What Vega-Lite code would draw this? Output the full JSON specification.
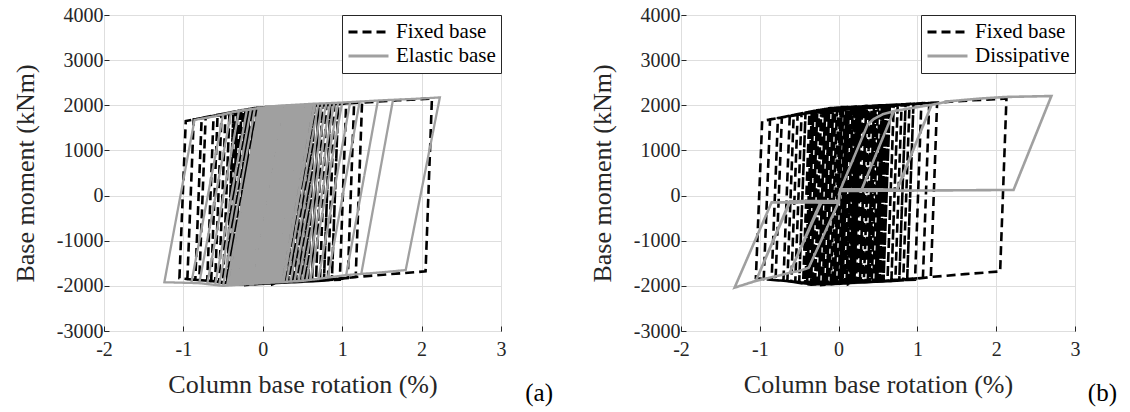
{
"$schema":"https://vega.github.io/schema/vega-lite/v6.json",
"background":"white",
"padding":{"left":11,"top":4,"right":5,"bottom":5},
"bounds":"flush",
"spacing":180,
"config":{
 "font":"Liberation Serif",
 "view":{"stroke":"#262626","strokeWidth":1},
 "style":{"guide-label":{"font":"Liberation Serif"}},
 "axis":{"labelFont":"Liberation Serif","labelFontSize":20,"labelColor":"#262626","titleFont":"Liberation Serif","titleFontSize":26,"titleFontWeight":"normal","titleColor":"#262626","gridColor":"#dedede","domain":false,"ticks":true,"tickColor":"#262626","tickSize":-5,"labelFlush":false},
 "axisX":{"labelPadding":13,"titlePadding":12},
 "axisY":{"labelPadding":6,"titlePadding":6,"minExtent":60,"maxExtent":60},
 "legend":{"orient":"top-right","offset":0,"strokeColor":"#262626","fillColor":"white","padding":5,"symbolType":"stroke","symbolSize":1600,"symbolStrokeWidth":3,"labelFont":"Liberation Serif","labelFontSize":21,"labelColor":"#000000","labelOffset":6,"rowPadding":0,"clipHeight":24,"cornerRadius":0},
 "title":{"font":"Liberation Serif","fontSize":25,"fontWeight":"normal","color":"#000000"}
},
"resolve":{"scale":{"color":"independent","strokeDash":"independent","x":"independent","y":"independent"}},
"datasets":{
"fixed":[
{"i":1,"x":0,"y":0,"s":"Fixed base"},
{"i":2,"x":0.04,"y":1960,"s":"Fixed base"},
{"i":3,"x":0.35,"y":1975,"s":"Fixed base"},
{"i":4,"x":0.27,"y":-1923,"s":"Fixed base"},
{"i":5,"x":-0.30,"y":-1960,"s":"Fixed base"},
{"i":6,"x":-0.22,"y":1904,"s":"Fixed base"},
{"i":7,"x":0.60,"y":2000,"s":"Fixed base"},
{"i":8,"x":0.52,"y":-1898,"s":"Fixed base"},
{"i":9,"x":-0.10,"y":-1960,"s":"Fixed base"},
{"i":10,"x":-0.02,"y":1948,"s":"Fixed base"},
{"i":11,"x":0.20,"y":1965,"s":"Fixed base"},
{"i":12,"x":0.12,"y":-1938,"s":"Fixed base"},
{"i":13,"x":-0.55,"y":-1912,"s":"Fixed base"},
{"i":14,"x":-0.47,"y":1803,"s":"Fixed base"},
{"i":15,"x":-0.10,"y":1940,"s":"Fixed base"},
{"i":16,"x":0.30,"y":1970,"s":"Fixed base"},
{"i":17,"x":0.85,"y":2025,"s":"Fixed base"},
{"i":18,"x":0.77,"y":-1882,"s":"Fixed base"},
{"i":19,"x":0.05,"y":-1945,"s":"Fixed base"},
{"i":20,"x":0.13,"y":1931,"s":"Fixed base"},
{"i":21,"x":0.45,"y":1955,"s":"Fixed base"},
{"i":22,"x":0.37,"y":-1883,"s":"Fixed base"},
{"i":23,"x":-0.40,"y":-1918,"s":"Fixed base"},
{"i":24,"x":-0.32,"y":1871,"s":"Fixed base"},
{"i":25,"x":0.30,"y":1970,"s":"Fixed base"},
{"i":26,"x":0.90,"y":2030,"s":"Fixed base"},
{"i":27,"x":1.25,"y":2060,"s":"Fixed base"},
{"i":28,"x":1.70,"y":2110,"s":"Fixed base"},
{"i":29,"x":2.13,"y":2150,"s":"Fixed base"},
{"i":30,"x":2.05,"y":-1680,"s":"Fixed base"},
{"i":31,"x":1.60,"y":-1740,"s":"Fixed base"},
{"i":32,"x":1.20,"y":-1800,"s":"Fixed base"},
{"i":33,"x":0.80,"y":-1880,"s":"Fixed base"},
{"i":34,"x":0.50,"y":-1900,"s":"Fixed base"},
{"i":35,"x":0.20,"y":-1930,"s":"Fixed base"},
{"i":36,"x":-0.20,"y":-1960,"s":"Fixed base"},
{"i":37,"x":-0.12,"y":1874,"s":"Fixed base"},
{"i":38,"x":0.30,"y":1930,"s":"Fixed base"},
{"i":39,"x":0.70,"y":1980,"s":"Fixed base"},
{"i":40,"x":0.62,"y":-1892,"s":"Fixed base"},
{"i":41,"x":0.20,"y":-1930,"s":"Fixed base"},
{"i":42,"x":-0.35,"y":-1960,"s":"Fixed base"},
{"i":43,"x":-0.60,"y":-1900,"s":"Fixed base"},
{"i":44,"x":-0.90,"y":-1860,"s":"Fixed base"},
{"i":45,"x":-1.05,"y":-1830,"s":"Fixed base"},
{"i":46,"x":-0.97,"y":1652,"s":"Fixed base"},
{"i":47,"x":-0.70,"y":1740,"s":"Fixed base"},
{"i":48,"x":-0.30,"y":1880,"s":"Fixed base"},
{"i":49,"x":0.30,"y":1970,"s":"Fixed base"},
{"i":50,"x":0.90,"y":2030,"s":"Fixed base"},
{"i":51,"x":1.25,"y":2060,"s":"Fixed base"},
{"i":52,"x":1.17,"y":-1806,"s":"Fixed base"},
{"i":53,"x":0.80,"y":-1860,"s":"Fixed base"},
{"i":54,"x":0.20,"y":-1900,"s":"Fixed base"},
{"i":55,"x":-0.35,"y":-1930,"s":"Fixed base"},
{"i":56,"x":-0.80,"y":-1873,"s":"Fixed base"},
{"i":57,"x":-0.72,"y":1734,"s":"Fixed base"},
{"i":58,"x":-0.30,"y":1850,"s":"Fixed base"},
{"i":59,"x":0.30,"y":1940,"s":"Fixed base"},
{"i":60,"x":0.95,"y":2034,"s":"Fixed base"},
{"i":61,"x":0.87,"y":-1866,"s":"Fixed base"},
{"i":62,"x":0.20,"y":-1930,"s":"Fixed base"},
{"i":63,"x":-0.35,"y":-1975,"s":"Fixed base"},
{"i":64,"x":-0.65,"y":-1893,"s":"Fixed base"},
{"i":65,"x":-0.57,"y":1772,"s":"Fixed base"},
{"i":66,"x":-0.30,"y":1880,"s":"Fixed base"},
{"i":67,"x":0.30,"y":1970,"s":"Fixed base"},
{"i":68,"x":0.22,"y":-1928,"s":"Fixed base"},
{"i":69,"x":-0.35,"y":-1960,"s":"Fixed base"},
{"i":70,"x":-0.60,"y":-1900,"s":"Fixed base"},
{"i":71,"x":-0.95,"y":-1850,"s":"Fixed base"},
{"i":72,"x":-0.87,"y":1689,"s":"Fixed base"},
{"i":73,"x":-0.50,"y":1790,"s":"Fixed base"},
{"i":74,"x":-0.30,"y":1880,"s":"Fixed base"},
{"i":75,"x":0.10,"y":1960,"s":"Fixed base"},
{"i":76,"x":0.55,"y":1995,"s":"Fixed base"},
{"i":77,"x":0.47,"y":-1903,"s":"Fixed base"},
{"i":78,"x":-0.25,"y":-1960,"s":"Fixed base"},
{"i":79,"x":-0.17,"y":1889,"s":"Fixed base"},
{"i":80,"x":0.30,"y":1945,"s":"Fixed base"},
{"i":81,"x":0.90,"y":2010,"s":"Fixed base"},
{"i":82,"x":1.05,"y":2043,"s":"Fixed base"},
{"i":83,"x":0.97,"y":-1864,"s":"Fixed base"},
{"i":84,"x":0.50,"y":-1900,"s":"Fixed base"},
{"i":85,"x":0.10,"y":-1940,"s":"Fixed base"},
{"i":86,"x":0.18,"y":1962,"s":"Fixed base"},
{"i":87,"x":0.22,"y":1964,"s":"Fixed base"},
{"i":88,"x":0.14,"y":-1936,"s":"Fixed base"},
{"i":89,"x":-0.45,"y":-1936,"s":"Fixed base"},
{"i":90,"x":-0.37,"y":1819,"s":"Fixed base"},
{"i":91,"x":0.30,"y":1940,"s":"Fixed base"},
{"i":92,"x":0.75,"y":1995,"s":"Fixed base"},
{"i":93,"x":0.67,"y":-1895,"s":"Fixed base"},
{"i":94,"x":-0.15,"y":-1960,"s":"Fixed base"},
{"i":95,"x":-0.07,"y":1943,"s":"Fixed base"},
{"i":96,"x":0.40,"y":1980,"s":"Fixed base"},
{"i":97,"x":0.32,"y":-1918,"s":"Fixed base"},
{"i":98,"x":-0.35,"y":-1960,"s":"Fixed base"},
{"i":99,"x":-0.70,"y":-1887,"s":"Fixed base"},
{"i":100,"x":-0.62,"y":1763,"s":"Fixed base"},
{"i":101,"x":-0.30,"y":1880,"s":"Fixed base"},
{"i":102,"x":0.30,"y":1970,"s":"Fixed base"},
{"i":103,"x":0.65,"y":2005,"s":"Fixed base"},
{"i":104,"x":0.57,"y":-1897,"s":"Fixed base"},
{"i":105,"x":0.00,"y":-1950,"s":"Fixed base"},
{"i":106,"x":0.08,"y":1928,"s":"Fixed base"},
{"i":107,"x":0.25,"y":1938,"s":"Fixed base"},
{"i":108,"x":0.17,"y":-1933,"s":"Fixed base"},
{"i":109,"x":-0.35,"y":-1960,"s":"Fixed base"},
{"i":110,"x":-0.27,"y":1889,"s":"Fixed base"},
{"i":111,"x":0.30,"y":1970,"s":"Fixed base"},
{"i":112,"x":0.90,"y":2030,"s":"Fixed base"},
{"i":113,"x":0.82,"y":-1876,"s":"Fixed base"},
{"i":114,"x":-0.05,"y":-1955,"s":"Fixed base"},
{"i":115,"x":0.03,"y":1953,"s":"Fixed base"},
{"i":116,"x":0.50,"y":1990,"s":"Fixed base"},
{"i":117,"x":0.42,"y":-1908,"s":"Fixed base"},
{"i":118,"x":-0.50,"y":-1924,"s":"Fixed base"},
{"i":119,"x":-0.42,"y":1826,"s":"Fixed base"},
{"i":120,"x":-0.10,"y":1940,"s":"Fixed base"},
{"i":121,"x":0.30,"y":1970,"s":"Fixed base"},
{"i":122,"x":0.90,"y":2030,"s":"Fixed base"},
{"i":123,"x":1.15,"y":2051,"s":"Fixed base"},
{"i":124,"x":1.07,"y":-1826,"s":"Fixed base"},
{"i":125,"x":0.50,"y":-1900,"s":"Fixed base"},
{"i":126,"x":0.20,"y":-1930,"s":"Fixed base"},
{"i":127,"x":0.28,"y":1969,"s":"Fixed base"},
{"i":128,"x":0.35,"y":1975,"s":"Fixed base"},
{"i":129,"x":0.27,"y":-1923,"s":"Fixed base"},
{"i":130,"x":-0.20,"y":-1960,"s":"Fixed base"},
{"i":131,"x":-0.12,"y":1934,"s":"Fixed base"},
{"i":132,"x":0.30,"y":1970,"s":"Fixed base"},
{"i":133,"x":0.80,"y":2020,"s":"Fixed base"},
{"i":134,"x":0.72,"y":-1886,"s":"Fixed base"},
{"i":135,"x":0.20,"y":-1930,"s":"Fixed base"},
{"i":136,"x":-0.35,"y":-1960,"s":"Fixed base"},
{"i":137,"x":-0.60,"y":-1900,"s":"Fixed base"},
{"i":138,"x":-0.52,"y":1785,"s":"Fixed base"},
{"i":139,"x":-0.30,"y":1880,"s":"Fixed base"},
{"i":140,"x":0.10,"y":1960,"s":"Fixed base"},
{"i":141,"x":0.02,"y":-1952,"s":"Fixed base"},
{"i":142,"x":-0.35,"y":-1960,"s":"Fixed base"},
{"i":143,"x":-0.60,"y":-1900,"s":"Fixed base"},
{"i":144,"x":-0.85,"y":-1867,"s":"Fixed base"},
{"i":145,"x":-0.77,"y":1719,"s":"Fixed base"},
{"i":146,"x":-0.30,"y":1880,"s":"Fixed base"},
{"i":147,"x":0.30,"y":1970,"s":"Fixed base"},
{"i":148,"x":0.60,"y":2000,"s":"Fixed base"},
{"i":149,"x":0.52,"y":-1898,"s":"Fixed base"},
{"i":150,"x":-0.30,"y":-1960,"s":"Fixed base"},
{"i":151,"x":-0.22,"y":1904,"s":"Fixed base"},
{"i":152,"x":0.45,"y":1985,"s":"Fixed base"},
{"i":153,"x":0.37,"y":-1913,"s":"Fixed base"},
{"i":154,"x":0.05,"y":-1945,"s":"Fixed base"},
{"i":155,"x":0.13,"y":1961,"s":"Fixed base"},
{"i":156,"x":0.70,"y":2010,"s":"Fixed base"},
{"i":157,"x":0.62,"y":-1892,"s":"Fixed base"},
{"i":158,"x":-0.40,"y":-1948,"s":"Fixed base"},
{"i":159,"x":-0.32,"y":1871,"s":"Fixed base"},
{"i":160,"x":0.20,"y":1965,"s":"Fixed base"},
{"i":161,"x":0.12,"y":-1938,"s":"Fixed base"},
{"i":162,"x":-0.10,"y":-1960,"s":"Fixed base"},
{"i":163,"x":-0.02,"y":1948,"s":"Fixed base"},
{"i":164,"x":0.85,"y":2025,"s":"Fixed base"},
{"i":165,"x":0.77,"y":-1882,"s":"Fixed base"},
{"i":166,"x":0.15,"y":-1935,"s":"Fixed base"},
{"i":167,"x":0.23,"y":1966,"s":"Fixed base"},
{"i":168,"x":0.55,"y":1995,"s":"Fixed base"},
{"i":169,"x":0.47,"y":-1903,"s":"Fixed base"},
{"i":170,"x":-0.25,"y":-1960,"s":"Fixed base"},
{"i":171,"x":-0.17,"y":1919,"s":"Fixed base"},
{"i":172,"x":0.30,"y":1970,"s":"Fixed base"},
{"i":173,"x":0.22,"y":-1928,"s":"Fixed base"},
{"i":174,"x":-0.50,"y":-1924,"s":"Fixed base"},
{"i":175,"x":-0.42,"y":1826,"s":"Fixed base"},
{"i":176,"x":0.95,"y":2034,"s":"Fixed base"},
{"i":177,"x":0.87,"y":-1866,"s":"Fixed base"},
{"i":178,"x":0.25,"y":-1925,"s":"Fixed base"},
{"i":179,"x":0.33,"y":1972,"s":"Fixed base"},
{"i":180,"x":0.65,"y":2005,"s":"Fixed base"},
{"i":181,"x":0.57,"y":-1897,"s":"Fixed base"},
{"i":182,"x":-0.05,"y":-1955,"s":"Fixed base"},
{"i":183,"x":0.03,"y":1953,"s":"Fixed base"},
{"i":184,"x":0.40,"y":1980,"s":"Fixed base"},
{"i":185,"x":0.32,"y":-1918,"s":"Fixed base"},
{"i":186,"x":-0.15,"y":-1960,"s":"Fixed base"},
{"i":187,"x":-0.07,"y":1943,"s":"Fixed base"},
{"i":188,"x":0.05,"y":1958,"s":"Fixed base"},
{"i":189,"x":-0.03,"y":-1956,"s":"Fixed base"},
{"i":190,"x":-0.40,"y":-1948,"s":"Fixed base"},
{"i":191,"x":-0.32,"y":1871,"s":"Fixed base"},
{"i":192,"x":0.75,"y":2015,"s":"Fixed base"},
{"i":193,"x":0.67,"y":-1895,"s":"Fixed base"},
{"i":194,"x":0.10,"y":-1940,"s":"Fixed base"},
{"i":195,"x":0.18,"y":1962,"s":"Fixed base"},
{"i":196,"x":0.50,"y":1990,"s":"Fixed base"},
{"i":197,"x":0.42,"y":-1908,"s":"Fixed base"},
{"i":198,"x":-0.20,"y":-1960,"s":"Fixed base"},
{"i":199,"x":-0.12,"y":1934,"s":"Fixed base"},
{"i":200,"x":0.38,"y":1978,"s":"Fixed base"},
{"i":201,"x":0.30,"y":-1920,"s":"Fixed base"},
{"i":202,"x":-0.33,"y":-1960,"s":"Fixed base"},
{"i":203,"x":-0.25,"y":1895,"s":"Fixed base"},
{"i":204,"x":0.12,"y":1930,"s":"Fixed base"},
{"i":205,"x":0.04,"y":-1946,"s":"Fixed base"},
{"i":206,"x":-0.42,"y":-1943,"s":"Fixed base"},
{"i":207,"x":-0.34,"y":1862,"s":"Fixed base"},
{"i":208,"x":0.58,"y":1998,"s":"Fixed base"},
{"i":209,"x":0.50,"y":-1900,"s":"Fixed base"},
{"i":210,"x":-0.08,"y":-1960,"s":"Fixed base"},
{"i":211,"x":0.00,"y":1950,"s":"Fixed base"},
{"i":212,"x":0.28,"y":1969,"s":"Fixed base"},
{"i":213,"x":0.20,"y":-1930,"s":"Fixed base"},
{"i":214,"x":-0.28,"y":-1925,"s":"Fixed base"},
{"i":215,"x":-0.20,"y":1910,"s":"Fixed base"},
{"i":216,"x":0.48,"y":1988,"s":"Fixed base"},
{"i":217,"x":0.40,"y":-1910,"s":"Fixed base"},
{"i":218,"x":0.02,"y":-1948,"s":"Fixed base"},
{"i":219,"x":0.10,"y":1960,"s":"Fixed base"},
{"i":220,"x":0.62,"y":2002,"s":"Fixed base"},
{"i":221,"x":0.54,"y":-1896,"s":"Fixed base"},
{"i":222,"x":-0.38,"y":-1953,"s":"Fixed base"},
{"i":223,"x":-0.30,"y":1880,"s":"Fixed base"},
{"i":224,"x":0.18,"y":1930,"s":"Fixed base"},
{"i":225,"x":0.10,"y":-1940,"s":"Fixed base"},
{"i":226,"x":-0.05,"y":-1960,"s":"Fixed base"},
{"i":227,"x":0.03,"y":1953,"s":"Fixed base"},
{"i":228,"x":0.42,"y":1982,"s":"Fixed base"},
{"i":229,"x":0.34,"y":-1916,"s":"Fixed base"},
{"i":230,"x":-0.45,"y":-1936,"s":"Fixed base"},
{"i":231,"x":-0.37,"y":1849,"s":"Fixed base"},
{"i":232,"x":0.08,"y":1958,"s":"Fixed base"},
{"i":233,"x":0.00,"y":-1950,"s":"Fixed base"},
{"i":234,"x":-0.22,"y":-1985,"s":"Fixed base"},
{"i":235,"x":-0.14,"y":1928,"s":"Fixed base"},
{"i":236,"x":0.52,"y":1992,"s":"Fixed base"},
{"i":237,"x":0.44,"y":-1906,"s":"Fixed base"},
{"i":238,"x":0.08,"y":-1942,"s":"Fixed base"},
{"i":239,"x":0.16,"y":1963,"s":"Fixed base"},
{"i":240,"x":0.33,"y":1973,"s":"Fixed base"},
{"i":241,"x":0.25,"y":-1925,"s":"Fixed base"},
{"i":242,"x":-0.12,"y":-1958,"s":"Fixed base"},
{"i":243,"x":-0.04,"y":1946,"s":"Fixed base"},
{"i":244,"x":0.60,"y":2000,"s":"Fixed base"},
{"i":245,"x":0.52,"y":-1898,"s":"Fixed base"},
{"i":246,"x":-0.35,"y":-1960,"s":"Fixed base"},
{"i":247,"x":-0.27,"y":1889,"s":"Fixed base"},
{"i":248,"x":0.02,"y":1915,"s":"Fixed base"},
{"i":249,"x":-0.06,"y":-1960,"s":"Fixed base"},
{"i":250,"x":-0.30,"y":-1960,"s":"Fixed base"},
{"i":251,"x":-0.22,"y":1904,"s":"Fixed base"},
{"i":252,"x":0.25,"y":1968,"s":"Fixed base"},
{"i":253,"x":0.17,"y":-1933,"s":"Fixed base"},
{"i":254,"x":0.12,"y":-1965,"s":"Fixed base"},
{"i":255,"x":0.20,"y":1965,"s":"Fixed base"},
{"i":256,"x":0.45,"y":1985,"s":"Fixed base"},
{"i":257,"x":0.37,"y":-1913,"s":"Fixed base"},
{"i":258,"x":-0.18,"y":-1960,"s":"Fixed base"},
{"i":259,"x":-0.10,"y":1940,"s":"Fixed base"},
{"i":260,"x":0.15,"y":1925,"s":"Fixed base"},
{"i":261,"x":0.07,"y":-1943,"s":"Fixed base"},
{"i":262,"x":-0.40,"y":-1948,"s":"Fixed base"},
{"i":263,"x":-0.32,"y":1871,"s":"Fixed base"},
{"i":264,"x":0.57,"y":1997,"s":"Fixed base"},
{"i":265,"x":0.49,"y":-1901,"s":"Fixed base"},
{"i":266,"x":0.18,"y":-1932,"s":"Fixed base"},
{"i":267,"x":0.26,"y":1968,"s":"Fixed base"},
{"i":268,"x":0.36,"y":1976,"s":"Fixed base"},
{"i":269,"x":0.28,"y":-1922,"s":"Fixed base"},
{"i":270,"x":-0.02,"y":-1958,"s":"Fixed base"},
{"i":271,"x":0.06,"y":1958,"s":"Fixed base"},
{"i":272,"x":0.63,"y":2003,"s":"Fixed base"},
{"i":273,"x":0.55,"y":-1898,"s":"Fixed base"},
{"i":274,"x":-0.27,"y":-1960,"s":"Fixed base"},
{"i":275,"x":-0.19,"y":1907,"s":"Fixed base"},
{"i":276,"x":0.22,"y":1964,"s":"Fixed base"},
{"i":277,"x":0.14,"y":-1936,"s":"Fixed base"},
{"i":278,"x":-0.43,"y":-1941,"s":"Fixed base"},
{"i":279,"x":-0.35,"y":1858,"s":"Fixed base"},
{"i":280,"x":0.10,"y":1960,"s":"Fixed base"},
{"i":281,"x":0.02,"y":-1952,"s":"Fixed base"},
{"i":282,"x":-0.15,"y":-1960,"s":"Fixed base"},
{"i":283,"x":-0.07,"y":1943,"s":"Fixed base"},
{"i":284,"x":0.47,"y":1987,"s":"Fixed base"},
{"i":285,"x":0.39,"y":-1911,"s":"Fixed base"},
{"i":286,"x":-0.37,"y":-1955,"s":"Fixed base"},
{"i":287,"x":-0.33,"y":0,"s":"Fixed base"}
],
"elastic":[
{"i":1,"x":0,"y":0,"s":"Elastic base"},
{"i":2,"x":0.20,"y":1990,"s":"Elastic base"},
{"i":3,"x":0.35,"y":2005,"s":"Elastic base"},
{"i":4,"x":-0.05,"y":-1945,"s":"Elastic base"},
{"i":5,"x":-0.15,"y":-1955,"s":"Elastic base"},
{"i":6,"x":0.25,"y":1995,"s":"Elastic base"},
{"i":7,"x":0.30,"y":2000,"s":"Elastic base"},
{"i":8,"x":-0.10,"y":-1950,"s":"Elastic base"},
{"i":9,"x":-0.20,"y":-1960,"s":"Elastic base"},
{"i":10,"x":0.20,"y":1990,"s":"Elastic base"},
{"i":11,"x":0.45,"y":2015,"s":"Elastic base"},
{"i":12,"x":0.05,"y":-1935,"s":"Elastic base"},
{"i":13,"x":-0.05,"y":-1945,"s":"Elastic base"},
{"i":14,"x":0.35,"y":2005,"s":"Elastic base"},
{"i":15,"x":0.55,"y":2025,"s":"Elastic base"},
{"i":16,"x":0.15,"y":-1925,"s":"Elastic base"},
{"i":17,"x":0.10,"y":-1930,"s":"Elastic base"},
{"i":18,"x":0.50,"y":2020,"s":"Elastic base"},
{"i":19,"x":0.60,"y":2030,"s":"Elastic base"},
{"i":20,"x":0.80,"y":2045,"s":"Elastic base"},
{"i":21,"x":0.40,"y":-1900,"s":"Elastic base"},
{"i":22,"x":0.20,"y":-1920,"s":"Elastic base"},
{"i":23,"x":-0.20,"y":-1960,"s":"Elastic base"},
{"i":24,"x":-0.30,"y":-1973,"s":"Elastic base"},
{"i":25,"x":0.10,"y":1970,"s":"Elastic base"},
{"i":26,"x":0.40,"y":2010,"s":"Elastic base"},
{"i":27,"x":0.00,"y":-1940,"s":"Elastic base"},
{"i":28,"x":-0.20,"y":-1960,"s":"Elastic base"},
{"i":29,"x":-0.50,"y":-2000,"s":"Elastic base"},
{"i":30,"x":-0.60,"y":-1980,"s":"Elastic base"},
{"i":31,"x":-0.20,"y":1903,"s":"Elastic base"},
{"i":32,"x":0.00,"y":1950,"s":"Elastic base"},
{"i":33,"x":0.25,"y":1995,"s":"Elastic base"},
{"i":34,"x":-0.15,"y":-1955,"s":"Elastic base"},
{"i":35,"x":-0.25,"y":-1967,"s":"Elastic base"},
{"i":36,"x":0.15,"y":1980,"s":"Elastic base"},
{"i":37,"x":0.60,"y":2030,"s":"Elastic base"},
{"i":38,"x":1.00,"y":2060,"s":"Elastic base"},
{"i":39,"x":0.60,"y":-1867,"s":"Elastic base"},
{"i":40,"x":0.50,"y":-1890,"s":"Elastic base"},
{"i":41,"x":0.20,"y":-1920,"s":"Elastic base"},
{"i":42,"x":0.60,"y":2030,"s":"Elastic base"},
{"i":43,"x":0.95,"y":2056,"s":"Elastic base"},
{"i":44,"x":0.55,"y":-1878,"s":"Elastic base"},
{"i":45,"x":0.20,"y":-1920,"s":"Elastic base"},
{"i":46,"x":0.05,"y":-1935,"s":"Elastic base"},
{"i":47,"x":0.45,"y":2015,"s":"Elastic base"},
{"i":48,"x":0.50,"y":2020,"s":"Elastic base"},
{"i":49,"x":0.10,"y":-1930,"s":"Elastic base"},
{"i":50,"x":-0.20,"y":-1960,"s":"Elastic base"},
{"i":51,"x":-0.45,"y":-1993,"s":"Elastic base"},
{"i":52,"x":-0.05,"y":1938,"s":"Elastic base"},
{"i":53,"x":0.20,"y":1990,"s":"Elastic base"},
{"i":54,"x":0.60,"y":2030,"s":"Elastic base"},
{"i":55,"x":1.00,"y":2060,"s":"Elastic base"},
{"i":56,"x":1.22,"y":2082,"s":"Elastic base"},
{"i":57,"x":0.82,"y":-1816,"s":"Elastic base"},
{"i":58,"x":0.50,"y":-1890,"s":"Elastic base"},
{"i":59,"x":0.30,"y":-1910,"s":"Elastic base"},
{"i":60,"x":0.70,"y":2038,"s":"Elastic base"},
{"i":61,"x":0.75,"y":2041,"s":"Elastic base"},
{"i":62,"x":0.35,"y":-1905,"s":"Elastic base"},
{"i":63,"x":0.20,"y":-1920,"s":"Elastic base"},
{"i":64,"x":-0.20,"y":-1960,"s":"Elastic base"},
{"i":65,"x":-0.50,"y":-2000,"s":"Elastic base"},
{"i":66,"x":-0.80,"y":-1940,"s":"Elastic base"},
{"i":67,"x":-0.40,"y":1840,"s":"Elastic base"},
{"i":68,"x":0.00,"y":1950,"s":"Elastic base"},
{"i":69,"x":0.15,"y":1980,"s":"Elastic base"},
{"i":70,"x":-0.25,"y":-1967,"s":"Elastic base"},
{"i":71,"x":-0.35,"y":-1980,"s":"Elastic base"},
{"i":72,"x":0.05,"y":1960,"s":"Elastic base"},
{"i":73,"x":0.60,"y":2030,"s":"Elastic base"},
{"i":74,"x":1.00,"y":2060,"s":"Elastic base"},
{"i":75,"x":1.50,"y":2110,"s":"Elastic base"},
{"i":76,"x":2.00,"y":2150,"s":"Elastic base"},
{"i":77,"x":2.23,"y":2175,"s":"Elastic base"},
{"i":78,"x":1.80,"y":-1650,"s":"Elastic base"},
{"i":79,"x":1.50,"y":-1700,"s":"Elastic base"},
{"i":80,"x":1.06,"y":-1760,"s":"Elastic base"},
{"i":81,"x":0.50,"y":-1890,"s":"Elastic base"},
{"i":82,"x":0.20,"y":-1920,"s":"Elastic base"},
{"i":83,"x":-0.20,"y":-1960,"s":"Elastic base"},
{"i":84,"x":-0.50,"y":-2000,"s":"Elastic base"},
{"i":85,"x":-0.80,"y":-1940,"s":"Elastic base"},
{"i":86,"x":-1.24,"y":-1920,"s":"Elastic base"},
{"i":87,"x":-0.86,"y":1675,"s":"Elastic base"},
{"i":88,"x":-0.60,"y":1760,"s":"Elastic base"},
{"i":89,"x":-0.30,"y":1880,"s":"Elastic base"},
{"i":90,"x":0.00,"y":1950,"s":"Elastic base"},
{"i":91,"x":0.20,"y":1990,"s":"Elastic base"},
{"i":92,"x":0.60,"y":2030,"s":"Elastic base"},
{"i":93,"x":1.00,"y":2060,"s":"Elastic base"},
{"i":94,"x":1.50,"y":2110,"s":"Elastic base"},
{"i":95,"x":1.64,"y":2122,"s":"Elastic base"},
{"i":96,"x":1.24,"y":-1736,"s":"Elastic base"},
{"i":97,"x":1.06,"y":-1760,"s":"Elastic base"},
{"i":98,"x":0.50,"y":-1890,"s":"Elastic base"},
{"i":99,"x":0.20,"y":-1920,"s":"Elastic base"},
{"i":100,"x":-0.20,"y":-1960,"s":"Elastic base"},
{"i":101,"x":-0.50,"y":-2000,"s":"Elastic base"},
{"i":102,"x":-0.80,"y":-1940,"s":"Elastic base"},
{"i":103,"x":-0.90,"y":-1935,"s":"Elastic base"},
{"i":104,"x":-0.50,"y":1790,"s":"Elastic base"},
{"i":105,"x":-0.30,"y":1880,"s":"Elastic base"},
{"i":106,"x":0.00,"y":1950,"s":"Elastic base"},
{"i":107,"x":0.20,"y":1990,"s":"Elastic base"},
{"i":108,"x":0.60,"y":2030,"s":"Elastic base"},
{"i":109,"x":0.20,"y":-1920,"s":"Elastic base"},
{"i":110,"x":-0.20,"y":-1960,"s":"Elastic base"},
{"i":111,"x":-0.50,"y":-2000,"s":"Elastic base"},
{"i":112,"x":-0.55,"y":-1990,"s":"Elastic base"},
{"i":113,"x":-0.15,"y":1915,"s":"Elastic base"},
{"i":114,"x":0.00,"y":1950,"s":"Elastic base"},
{"i":115,"x":0.20,"y":1990,"s":"Elastic base"},
{"i":116,"x":0.60,"y":2030,"s":"Elastic base"},
{"i":117,"x":1.00,"y":2060,"s":"Elastic base"},
{"i":118,"x":1.45,"y":2105,"s":"Elastic base"},
{"i":119,"x":1.05,"y":-1762,"s":"Elastic base"},
{"i":120,"x":0.50,"y":-1890,"s":"Elastic base"},
{"i":121,"x":0.20,"y":-1920,"s":"Elastic base"},
{"i":122,"x":-0.20,"y":-1960,"s":"Elastic base"},
{"i":123,"x":-0.50,"y":-2000,"s":"Elastic base"},
{"i":124,"x":-0.70,"y":-1960,"s":"Elastic base"},
{"i":125,"x":-0.30,"y":1880,"s":"Elastic base"},
{"i":126,"x":0.00,"y":1950,"s":"Elastic base"},
{"i":127,"x":0.30,"y":2000,"s":"Elastic base"},
{"i":128,"x":-0.10,"y":-1950,"s":"Elastic base"},
{"i":129,"x":-0.40,"y":-1987,"s":"Elastic base"},
{"i":130,"x":0.00,"y":1950,"s":"Elastic base"},
{"i":131,"x":0.20,"y":1990,"s":"Elastic base"},
{"i":132,"x":0.60,"y":2030,"s":"Elastic base"},
{"i":133,"x":0.90,"y":2052,"s":"Elastic base"},
{"i":134,"x":0.50,"y":-1890,"s":"Elastic base"},
{"i":135,"x":0.20,"y":-1920,"s":"Elastic base"},
{"i":136,"x":0.00,"y":-1940,"s":"Elastic base"},
{"i":137,"x":0.40,"y":2010,"s":"Elastic base"},
{"i":138,"x":0.42,"y":2012,"s":"Elastic base"},
{"i":139,"x":0.02,"y":-1938,"s":"Elastic base"},
{"i":140,"x":-0.10,"y":-1950,"s":"Elastic base"},
{"i":141,"x":0.30,"y":2000,"s":"Elastic base"},
{"i":142,"x":0.65,"y":2034,"s":"Elastic base"},
{"i":143,"x":0.25,"y":-1915,"s":"Elastic base"},
{"i":144,"x":0.15,"y":-1925,"s":"Elastic base"},
{"i":145,"x":0.55,"y":2025,"s":"Elastic base"},
{"i":146,"x":0.58,"y":2028,"s":"Elastic base"},
{"i":147,"x":0.18,"y":-1922,"s":"Elastic base"},
{"i":148,"x":-0.20,"y":-1960,"s":"Elastic base"},
{"i":149,"x":0.20,"y":1990,"s":"Elastic base"},
{"i":150,"x":0.60,"y":2030,"s":"Elastic base"},
{"i":151,"x":1.00,"y":2060,"s":"Elastic base"},
{"i":152,"x":1.10,"y":2070,"s":"Elastic base"},
{"i":153,"x":0.70,"y":-1850,"s":"Elastic base"},
{"i":154,"x":0.45,"y":-1895,"s":"Elastic base"},
{"i":155,"x":0.85,"y":2049,"s":"Elastic base"},
{"i":156,"x":0.95,"y":2056,"s":"Elastic base"},
{"i":157,"x":0.55,"y":-1878,"s":"Elastic base"},
{"i":158,"x":0.20,"y":-1920,"s":"Elastic base"},
{"i":159,"x":0.10,"y":-1930,"s":"Elastic base"},
{"i":160,"x":0.50,"y":2020,"s":"Elastic base"},
{"i":161,"x":0.55,"y":2025,"s":"Elastic base"},
{"i":162,"x":0.15,"y":-1925,"s":"Elastic base"},
{"i":163,"x":-0.05,"y":-1945,"s":"Elastic base"},
{"i":164,"x":0.35,"y":2005,"s":"Elastic base"},
{"i":165,"x":0.37,"y":2007,"s":"Elastic base"},
{"i":166,"x":-0.03,"y":-1943,"s":"Elastic base"},
{"i":167,"x":-0.15,"y":-1955,"s":"Elastic base"},
{"i":168,"x":0.25,"y":1995,"s":"Elastic base"},
{"i":169,"x":0.32,"y":2002,"s":"Elastic base"},
{"i":170,"x":-0.08,"y":-1948,"s":"Elastic base"},
{"i":171,"x":-0.12,"y":-1952,"s":"Elastic base"},
{"i":172,"x":0.28,"y":1998,"s":"Elastic base"},
{"i":173,"x":0.50,"y":2020,"s":"Elastic base"},
{"i":174,"x":0.10,"y":-1930,"s":"Elastic base"},
{"i":175,"x":0.02,"y":-1938,"s":"Elastic base"},
{"i":176,"x":0.42,"y":2012,"s":"Elastic base"},
{"i":177,"x":0.48,"y":2018,"s":"Elastic base"},
{"i":178,"x":0.08,"y":-1932,"s":"Elastic base"},
{"i":179,"x":-0.25,"y":-1967,"s":"Elastic base"},
{"i":180,"x":0.15,"y":1980,"s":"Elastic base"},
{"i":181,"x":0.22,"y":1992,"s":"Elastic base"},
{"i":182,"x":-0.18,"y":-1958,"s":"Elastic base"},
{"i":183,"x":-0.28,"y":-1971,"s":"Elastic base"},
{"i":184,"x":0.12,"y":1974,"s":"Elastic base"},
{"i":185,"x":0.40,"y":2010,"s":"Elastic base"},
{"i":186,"x":0.00,"y":-1940,"s":"Elastic base"},
{"i":187,"x":-0.02,"y":-1942,"s":"Elastic base"},
{"i":188,"x":0.38,"y":2008,"s":"Elastic base"},
{"i":189,"x":0.62,"y":2032,"s":"Elastic base"},
{"i":190,"x":0.22,"y":-1918,"s":"Elastic base"},
{"i":191,"x":0.12,"y":-1928,"s":"Elastic base"},
{"i":192,"x":0.52,"y":2022,"s":"Elastic base"},
{"i":193,"x":0.58,"y":2028,"s":"Elastic base"},
{"i":194,"x":0.18,"y":-1922,"s":"Elastic base"},
{"i":195,"x":-0.08,"y":-1948,"s":"Elastic base"},
{"i":196,"x":0.32,"y":2002,"s":"Elastic base"},
{"i":197,"x":0.33,"y":2003,"s":"Elastic base"},
{"i":198,"x":-0.07,"y":-1947,"s":"Elastic base"},
{"i":199,"x":-0.32,"y":-1976,"s":"Elastic base"},
{"i":200,"x":0.08,"y":1966,"s":"Elastic base"},
{"i":201,"x":0.12,"y":1974,"s":"Elastic base"},
{"i":202,"x":-0.28,"y":-1971,"s":"Elastic base"},
{"i":203,"x":-0.38,"y":-1984,"s":"Elastic base"},
{"i":204,"x":0.02,"y":1954,"s":"Elastic base"},
{"i":205,"x":0.28,"y":1998,"s":"Elastic base"},
{"i":206,"x":-0.12,"y":-1952,"s":"Elastic base"},
{"i":207,"x":-0.18,"y":-1958,"s":"Elastic base"},
{"i":208,"x":0.22,"y":1992,"s":"Elastic base"},
{"i":209,"x":0.52,"y":2022,"s":"Elastic base"},
{"i":210,"x":0.12,"y":-1928,"s":"Elastic base"},
{"i":211,"x":0.07,"y":-1933,"s":"Elastic base"},
{"i":212,"x":0.47,"y":2017,"s":"Elastic base"},
{"i":213,"x":0.70,"y":2038,"s":"Elastic base"},
{"i":214,"x":0.30,"y":-1910,"s":"Elastic base"},
{"i":215,"x":0.22,"y":-1918,"s":"Elastic base"},
{"i":216,"x":0.62,"y":2032,"s":"Elastic base"},
{"i":217,"x":0.66,"y":2035,"s":"Elastic base"},
{"i":218,"x":0.26,"y":-1914,"s":"Elastic base"},
{"i":219,"x":-0.22,"y":-1963,"s":"Elastic base"},
{"i":220,"x":0.18,"y":1986,"s":"Elastic base"},
{"i":221,"x":0.20,"y":1990,"s":"Elastic base"},
{"i":222,"x":-0.20,"y":-1960,"s":"Elastic base"},
{"i":223,"x":-0.42,"y":-1989,"s":"Elastic base"},
{"i":224,"x":-0.02,"y":1945,"s":"Elastic base"},
{"i":225,"x":0.05,"y":1960,"s":"Elastic base"},
{"i":226,"x":-0.35,"y":-1980,"s":"Elastic base"},
{"i":227,"x":-0.50,"y":-2000,"s":"Elastic base"},
{"i":228,"x":-0.10,"y":1927,"s":"Elastic base"},
{"i":229,"x":0.43,"y":2013,"s":"Elastic base"},
{"i":230,"x":0.03,"y":-1937,"s":"Elastic base"},
{"i":231,"x":-0.08,"y":-1948,"s":"Elastic base"},
{"i":232,"x":0.32,"y":2002,"s":"Elastic base"},
{"i":233,"x":0.47,"y":2017,"s":"Elastic base"},
{"i":234,"x":0.07,"y":-1933,"s":"Elastic base"},
{"i":235,"x":0.04,"y":-1936,"s":"Elastic base"},
{"i":236,"x":0.44,"y":2014,"s":"Elastic base"},
{"i":237,"x":0.60,"y":2030,"s":"Elastic base"},
{"i":238,"x":0.20,"y":-1920,"s":"Elastic base"},
{"i":239,"x":-0.02,"y":-1942,"s":"Elastic base"},
{"i":240,"x":0.38,"y":2008,"s":"Elastic base"},
{"i":241,"x":0.39,"y":2009,"s":"Elastic base"},
{"i":242,"x":-0.01,"y":-1941,"s":"Elastic base"},
{"i":243,"x":-0.20,"y":-1960,"s":"Elastic base"},
{"i":244,"x":0.00,"y":0,"s":"Elastic base"}
],
"diss":[
{"i":1,"x":0.00,"y":0,"s":"Dissipative"},
{"i":2,"x":0.02,"y":120,"s":"Dissipative"},
{"i":3,"x":0.37,"y":1580,"s":"Dissipative"},
{"i":4,"x":0.45,"y":1700,"s":"Dissipative"},
{"i":5,"x":0.56,"y":1800,"s":"Dissipative"},
{"i":6,"x":0.70,"y":1870,"s":"Dissipative"},
{"i":7,"x":0.29,"y":120,"s":"Dissipative"},
{"i":8,"x":0.02,"y":115,"s":"Dissipative"},
{"i":9,"x":0.00,"y":-150,"s":"Dissipative"},
{"i":10,"x":-0.38,"y":-1600,"s":"Dissipative"},
{"i":11,"x":-0.50,"y":-1670,"s":"Dissipative"},
{"i":12,"x":-0.62,"y":-1710,"s":"Dissipative"},
{"i":13,"x":-0.23,"y":-150,"s":"Dissipative"},
{"i":14,"x":0.00,"y":-140,"s":"Dissipative"},
{"i":15,"x":0.02,"y":130,"s":"Dissipative"},
{"i":16,"x":0.29,"y":125,"s":"Dissipative"},
{"i":17,"x":0.70,"y":1870,"s":"Dissipative"},
{"i":18,"x":0.88,"y":1925,"s":"Dissipative"},
{"i":19,"x":1.00,"y":1960,"s":"Dissipative"},
{"i":20,"x":1.18,"y":2010,"s":"Dissipative"},
{"i":21,"x":0.74,"y":115,"s":"Dissipative"},
{"i":22,"x":0.02,"y":105,"s":"Dissipative"},
{"i":23,"x":0.00,"y":-160,"s":"Dissipative"},
{"i":24,"x":-0.22,"y":-160,"s":"Dissipative"},
{"i":25,"x":-0.62,"y":-1710,"s":"Dissipative"},
{"i":26,"x":-0.80,"y":-1790,"s":"Dissipative"},
{"i":27,"x":-0.98,"y":-1860,"s":"Dissipative"},
{"i":28,"x":-1.05,"y":-1890,"s":"Dissipative"},
{"i":29,"x":-0.62,"y":-160,"s":"Dissipative"},
{"i":30,"x":0.00,"y":-130,"s":"Dissipative"},
{"i":31,"x":0.02,"y":140,"s":"Dissipative"},
{"i":32,"x":0.74,"y":135,"s":"Dissipative"},
{"i":33,"x":1.18,"y":2010,"s":"Dissipative"},
{"i":34,"x":1.41,"y":2090,"s":"Dissipative"},
{"i":35,"x":1.80,"y":2150,"s":"Dissipative"},
{"i":36,"x":2.13,"y":2185,"s":"Dissipative"},
{"i":37,"x":2.70,"y":2205,"s":"Dissipative"},
{"i":38,"x":2.22,"y":125,"s":"Dissipative"},
{"i":39,"x":0.02,"y":100,"s":"Dissipative"},
{"i":40,"x":0.00,"y":-120,"s":"Dissipative"},
{"i":41,"x":-0.62,"y":-125,"s":"Dissipative"},
{"i":42,"x":-1.05,"y":-1890,"s":"Dissipative"},
{"i":43,"x":-1.32,"y":-2040,"s":"Dissipative"},
{"i":44,"x":-0.85,"y":-150,"s":"Dissipative"},
{"i":45,"x":0.00,"y":-150,"s":"Dissipative"},
{"i":46,"x":0.02,"y":110,"s":"Dissipative"}
]
},
"hconcat":[
{
 "width":397,"height":316,
 "title":{"text":"(a)","orient":"bottom","anchor":"end","dx":47,"dy":-20},
 "encoding":{
  "x":{"field":"x","type":"quantitative","scale":{"domain":[-2,3],"nice":false,"zero":false},"axis":{"values":[-2,-1,0,1,2,3],"labelFont":"Liberation Serif","labelExpr":"datum.value < 0 ? '-' + format(-datum.value, 'd') : format(datum.value, 'd')","title":"Column base rotation (%)"}},
  "y":{"field":"y","type":"quantitative","scale":{"domain":[-3000,4000],"nice":false,"zero":false},"axis":{"values":[-3000,-2000,-1000,0,1000,2000,3000,4000],"labelFont":"Liberation Serif","labelExpr":"datum.value < 0 ? '-' + format(-datum.value, 'd') : format(datum.value, 'd')","title":"Base moment (kNm)"}},
  "order":{"field":"i","type":"quantitative"},
  "color":{"field":"s","type":"nominal","scale":{"domain":["Fixed base","Elastic base"],"range":["#000000","#a0a0a0"]},"legend":{"title":null}},
  "strokeDash":{"field":"s","type":"nominal","scale":{"domain":["Fixed base","Elastic base"],"range":[[9,5],[1,0]]},"legend":{"title":null}}
 },
 "layer":[
  {"data":{"name":"fixed"},"mark":{"type":"line","strokeWidth":2.6,"clip":true}},
  {"data":{"name":"elastic"},"mark":{"type":"line","strokeWidth":2.3,"clip":true}}
 ]
},
{
 "width":394,"height":316,
 "title":{"text":"(b)","orient":"bottom","anchor":"end","dx":37,"dy":-20},
 "encoding":{
  "x":{"field":"x","type":"quantitative","scale":{"domain":[-2,3],"nice":false,"zero":false},"axis":{"values":[-2,-1,0,1,2,3],"labelFont":"Liberation Serif","labelExpr":"datum.value < 0 ? '-' + format(-datum.value, 'd') : format(datum.value, 'd')","title":"Column base rotation (%)"}},
  "y":{"field":"y","type":"quantitative","scale":{"domain":[-3000,4000],"nice":false,"zero":false},"axis":{"values":[-3000,-2000,-1000,0,1000,2000,3000,4000],"labelFont":"Liberation Serif","labelExpr":"datum.value < 0 ? '-' + format(-datum.value, 'd') : format(datum.value, 'd')","title":"Base moment (kNm)"}},
  "order":{"field":"i","type":"quantitative"},
  "color":{"field":"s","type":"nominal","scale":{"domain":["Fixed base","Dissipative"],"range":["#000000","#a0a0a0"]},"legend":{"title":null}},
  "strokeDash":{"field":"s","type":"nominal","scale":{"domain":["Fixed base","Dissipative"],"range":[[9,5],[1,0]]},"legend":{"title":null}}
 },
 "layer":[
  {"data":{"name":"fixed"},"mark":{"type":"line","strokeWidth":2.6,"clip":true}},
  {"data":{"name":"diss"},"mark":{"type":"line","strokeWidth":2.6,"clip":true}}
 ]
}
]
}
